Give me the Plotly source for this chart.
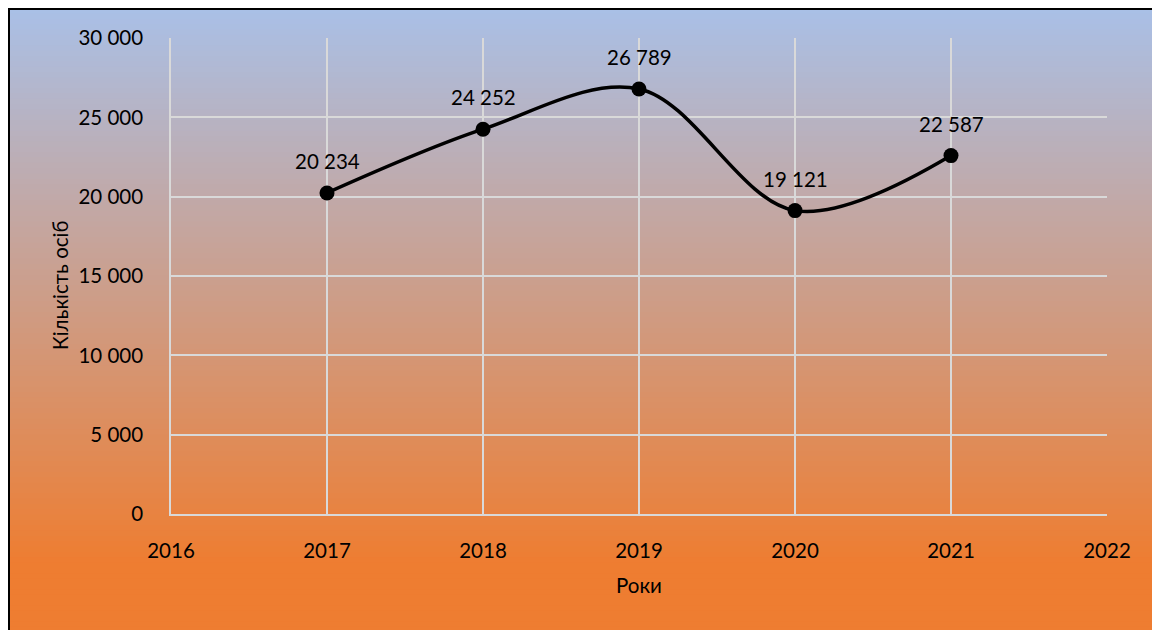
import plotly.graph_objects as go

years = [2017, 2018, 2019, 2020, 2021]
people = [20234, 24252, 26789, 19121, 22587]
y_ticks = [0, 5000, 10000, 15000, 20000, 25000, 30000]
x_ticks = [2016, 2017, 2018, 2019, 2020, 2021, 2022]

W, H = 1160, 630
L, R, T, B = 163, 61, 30, 124
PW, PH = W - L - R, H - T - B


def px_x(p):
    return (p - L) / PW


def px_y(p):
    return (H - B - p) / PH


def lerp(c1, c2, t):
    return "rgb(%d,%d,%d)" % tuple(round(a + (b - a) * t) for a, b in zip(c1, c2))


top_c = (169, 192, 231)
bot_c = (238, 125, 49)
shapes = []
y0, y1 = 0, 640
g_end = 555
n = 120
step = (y1 - y0) / n
for i in range(n):
    a = y0 + i * step
    b = a + step + 0.8
    mid = a + step / 2
    t = min(1.0, max(0.0, (mid - y0) / (g_end - y0)))
    shapes.append(dict(type="rect", xref="paper", yref="paper", layer="below",
                       x0=px_x(0), x1=px_x(1152), y0=px_y(min(b, 640)), y1=px_y(a),
                       fillcolor=lerp(top_c, bot_c, t), line=dict(width=0)))
# frame
shapes.append(dict(type="line", xref="paper", yref="paper", x0=px_x(0), x1=px_x(1152),
                   y0=px_y(1), y1=px_y(1), line=dict(color="black", width=2)))
shapes.append(dict(type="line", xref="paper", yref="paper", x0=px_x(1), x1=px_x(1),
                   y0=px_y(0), y1=px_y(640), line=dict(color="black", width=2)))
shapes.append(dict(type="line", xref="paper", yref="paper", x0=px_x(1151.5), x1=px_x(1151.5),
                   y0=px_y(1), y1=px_y(640), line=dict(color="#777777", width=1)))

font = "Lato, Carlito, 'Open Sans', sans-serif"
FS = 20.5

fig = go.Figure()
fig.add_trace(go.Scatter(
    x=years, y=people, mode="lines+markers",
    line=dict(color="black", width=3.5, shape="spline", smoothing=1.0),
    marker=dict(color="black", size=15),
    cliponaxis=False, hoverinfo="skip",
))

annotations = [
    dict(x=xv, y=yv, xref="x", yref="y", text=f"{yv:,}".replace(",", " "),
         showarrow=False, xanchor="center", yanchor="middle", yshift=32,
         font=dict(size=FS, color="black", family=font))
    for xv, yv in zip(years, people)
]
annotations += [
    dict(text="Роки", xref="paper", yref="paper", x=0.5, y=px_y(577),
         showarrow=False, xanchor="center", yanchor="middle", font=dict(size=FS)),
    dict(text="Кількість осіб", xref="paper", yref="paper", x=px_x(52), y=px_y(277),
         showarrow=False, textangle=-90, xanchor="center", yanchor="middle",
         font=dict(size=FS)),
]

fig.update_layout(
    width=W, height=H,
    margin=dict(l=L, r=R, t=T, b=B),
    paper_bgcolor="white", plot_bgcolor="rgba(0,0,0,0)",
    separators=". ",
    showlegend=False,
    font=dict(family=font, size=FS, color="black"),
    shapes=shapes,
    xaxis=dict(range=[2016, 2022], tickvals=x_ticks, ticktext=[str(v) for v in x_ticks],
               showgrid=True, gridcolor="#d9d9d9", gridwidth=1.5,
               showline=True, linecolor="#d9d9d9", linewidth=1.5, zeroline=False,
               ticks="", ticklabelstandoff=18, tickfont=dict(size=FS)),
    yaxis=dict(range=[0, 30000], tickvals=y_ticks, tickformat=",",
               showgrid=True, gridcolor="#d9d9d9", gridwidth=1.5,
               showline=True, linecolor="#d9d9d9", linewidth=1.5, zeroline=False,
               ticks="", ticklabelstandoff=22, tickfont=dict(size=FS)),
    annotations=annotations,
)

fig.write_html("out.html")
